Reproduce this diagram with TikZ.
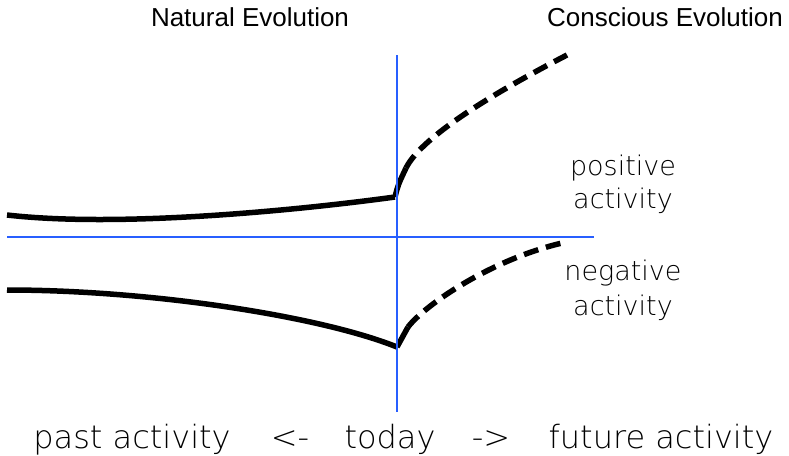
\documentclass[tikz,border=0pt]{standalone}
\usepackage{fontspec}
\setmainfont{Liberation Sans}
\newfontfamily\dvfont{DejaVu Sans ExtraLight}
\definecolor{axisblue}{RGB}{40,95,255}
\begin{document}
\begin{tikzpicture}[x=1pt,y=-1pt,
  axisline/.style={draw=axisblue, line width=2.5pt},
  curveline/.style={draw=black, line width=5.5pt, line cap=butt},
  dashline/.style={curveline, dash pattern=on 15pt off 8pt},
  title/.style={anchor=base, inner sep=0pt, font=\fontsize{26}{31}\selectfont},
  label/.style={anchor=base, inner sep=0pt, font=\dvfont\fontsize{27}{32}\selectfont},
  axislabel/.style={anchor=base, inner sep=0pt, font=\dvfont\fontsize{32}{38}\selectfont}]
\useasboundingbox (0,0) rectangle (789,455);
% axes
\coordinate (vt) at (397,55);
\coordinate (vb) at (397,412);
\coordinate (hl) at (7,237);
\coordinate (hr) at (594,237);
% curve points
\coordinate (us) at (7,215);
\coordinate (uv) at (395,197);
\coordinate (uk) at (406,168);
\coordinate (ue) at (567,55);
\coordinate (ls) at (7,290);
\coordinate (lv) at (397,347);
\coordinate (lk) at (408,327);
\coordinate (le) at (562,243);
% upper curve
\draw[curveline] (us) .. controls (120,228) and (300,210) .. (uv);
\draw[curveline] (uv) .. controls (398,185) .. (uk);
\draw[dashline] (uk) .. controls (420,140) and (480,100) .. (ue);
% lower curve
\draw[curveline] (ls) .. controls (150,290) and (320,316) .. (lv);
\draw[curveline] (lv) -- (lk);
\draw[dashline] (lk) .. controls (425,305) and (490,260) .. (le);
% axes on top
\draw[axisline] (vt) -- (vb);
\draw[axisline] (hl) -- (hr);
% titles
\node[title] (nat) at (250,27) {Natural Evolution};
\node[title] (con) at (665,27) {Conscious Evolution};
% side labels
\node[label] (pos1) at (623,175) {positive};
\node[label] (pos2) at (623,208) {activity};
\node[label] (neg1) at (623,280) {negative};
\node[label] (neg2) at (623,315) {activity};
% bottom
\node[axislabel] (past) at (132,448) {past activity};
\node[axislabel] (la) at (290,448) {<-};
\node[axislabel] (today) at (390,448) {today};
\node[axislabel] (ra) at (491,448) {->};
\node[axislabel] (fut) at (661,448) {future activity};
\end{tikzpicture}
\end{document}
